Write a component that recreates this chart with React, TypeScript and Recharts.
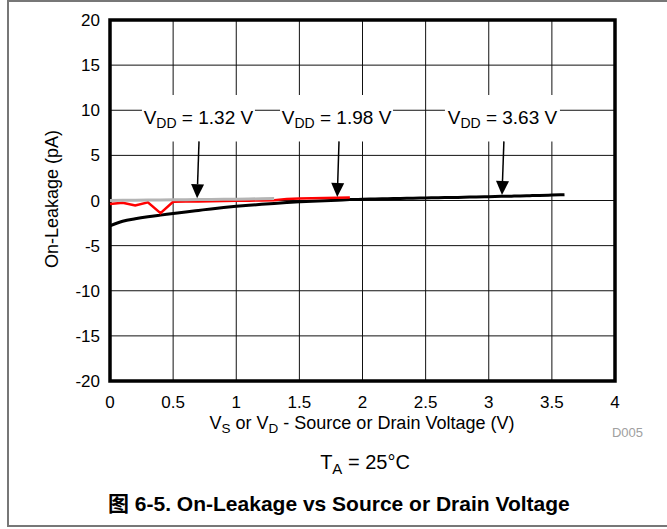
import { LineChart, Line, XAxis, YAxis, CartesianGrid, ReferenceArea, ReferenceLine } from 'recharts';

// source / drain voltage (V)
const voltage = [
  0, 0.1, 0.2, 0.3, 0.4, 0.5, 0.6, 0.7, 0.8, 0.9, 1.0, 1.1, 1.2, 1.3, 1.4, 1.5, 1.6, 1.7, 1.8,
  1.9, 2.0, 2.1, 2.2, 2.3, 2.4, 2.5, 2.6, 2.7, 2.8, 2.9, 3.0, 3.1, 3.2, 3.3, 3.4, 3.5, 3.6,
];

// on-leakage (pA) per supply
const leak132 = [0.0, 0.02, 0.03, 0.05, 0.06, 0.08, 0.09, 0.11, 0.12, 0.14, 0.15, 0.17, 0.19, 0.21];
const leak198 = [
  -0.4, -0.25, -0.55, -0.2, -1.4, -0.15, -0.12, -0.1, -0.08, -0.06, -0.04, -0.02, 0.0, 0.02,
  0.18, 0.22, 0.25, 0.28, 0.31, 0.34,
];
const leak363 = [
  -2.8, -2.3, -2.02, -1.8, -1.62, -1.45, -1.27, -1.1, -0.93, -0.78, -0.65, -0.53, -0.42, -0.32,
  -0.23, -0.15, -0.08, -0.02, 0.04, 0.1, 0.15, 0.17, 0.2, 0.23, 0.25, 0.28, 0.31, 0.33, 0.36,
  0.39, 0.42, 0.46, 0.49, 0.53, 0.56, 0.6, 0.65,
];

const xTicks = [0, 0.5, 1, 1.5, 2, 2.5, 3, 3.5, 4];
const yTicks = [-20, -15, -10, -5, 0, 5, 10, 15, 20];

// annotation boxes: [label, x1, x2] and arrows: [fromX, toX, toY]
const annLabels = ['1.32 V', '1.98 V', '3.63 V'];
const annBoxes = [
  [0.253, 1.148],
  [1.347, 2.242],
  [2.653, 3.564],
];
const annArrows = [
  [0.705, 0.69, 0.25],
  [1.814, 1.8, 0.38],
  [3.12, 3.105, 0.62],
];

const data = voltage.map((v, i) => ({
  v,
  a: leak132[i],
  b: leak198[i],
  c: leak363[i],
}));

const FONT = "'Liberation Sans', Arial, 'Noto Sans CJK SC', sans-serif";

const Arrow = (props: any) => {
  const { x1, y1, x2, y2 } = props;
  const ang = Math.atan2(y2 - y1, x2 - x1);
  const L = 14;
  const W = 6.5;
  const bx = x2 - L * Math.cos(ang);
  const by = y2 - L * Math.sin(ang);
  const px = -Math.sin(ang) * W;
  const py = Math.cos(ang) * W;
  return (
    <g>
      <line x1={x1} y1={y1} x2={bx} y2={by} stroke="#000" strokeWidth={1.5} />
      <polygon points={`${x2},${y2} ${bx + px},${by + py} ${bx - px},${by - py}`} fill="#000" />
    </g>
  );
};

const annText = (vb: any, value: string) => {
  const cx = vb.x + vb.width / 2;
  const cy = vb.y + vb.height / 2 + 6;
  return (
    <text x={cx} y={cy} textAnchor="middle" fontSize={19} fontFamily={FONT} fill="#000">
      V
      <tspan fontSize={14} dy={4}>DD</tspan>
      <tspan dy={-4}>{` = ${value}`}</tspan>
    </text>
  );
};

const sub = { fontSize: '0.75em', position: 'relative' as const, top: '0.3em' };

export default function App() {
  return (
    <div style={{ position: 'absolute', left: 0, top: 0, width: 667, height: 529, overflow: 'hidden', background: '#fff', fontFamily: FONT }}>
      {/* frame */}
      <div style={{ position: 'absolute', left: 7, top: 0, width: 700, height: 527, border: '2px solid #777', boxSizing: 'border-box' }} />

      <div style={{ position: 'absolute', left: 0, top: 0 }}>
        <LineChart width={667} height={529} data={data} margin={{ top: 20, right: 52, bottom: 118, left: 0 }}>
          <CartesianGrid stroke="#111" strokeWidth={1} />
          <XAxis
            dataKey="v"
            type="number"
            domain={[0, 4]}
            ticks={xTicks}
            axisLine={false}
            tickLine={false}
            tickMargin={9}
            height={30}
            tick={{ fill: '#000', fontSize: 17, fontFamily: FONT }}
            interval={0}
          />
          <YAxis
            type="number"
            domain={[-20, 20]}
            ticks={yTicks}
            axisLine={false}
            tickLine={false}
            tickMargin={4}
            width={110}
            tick={{ fill: '#000', fontSize: 17, fontFamily: FONT }}
            interval={0}
          />
          {annBoxes.map((b, i) => (
            <ReferenceArea
              key={annLabels[i]}
              x1={b[0]}
              x2={b[1]}
              y1={6.55}
              y2={11.7}
              fill="#fff"
              fillOpacity={1}
              stroke="none"
              label={(p: any) => annText(p.viewBox, annLabels[i])}
            />
          ))}
          <ReferenceArea x1={0} x2={4} y1={-20} y2={20} fill="none" stroke="#000" strokeWidth={3.5} />
          <Line type="monotone" dataKey="c" stroke="#000" strokeWidth={3} dot={false} isAnimationActive={false} />
          <Line type="linear" dataKey="b" stroke="#ff0000" strokeWidth={2.5} dot={false} isAnimationActive={false} />
          <Line type="linear" dataKey="a" stroke="#b4b4b4" strokeWidth={3} dot={false} isAnimationActive={false} />
          {annArrows.map((a, i) => (
            <ReferenceLine
              key={'arr' + i}
              segment={[{ x: a[0], y: 6.55 }, { x: a[1], y: a[2] }]}
              shape={Arrow}
            />
          ))}
        </LineChart>
      </div>

      {/* axis titles */}
      <div style={{ position: 'absolute', left: 52, top: 199, transform: 'translate(-50%, -50%) rotate(-90deg)', fontSize: 18, whiteSpace: 'nowrap', lineHeight: 1 }}>
        On-Leakage (pA)
      </div>
      <div style={{ position: 'absolute', left: 362, top: 423, transform: 'translate(-50%, -50%)', fontSize: 18, whiteSpace: 'nowrap', lineHeight: 1 }}>
        V<span style={sub}>S</span> or V<span style={sub}>D</span> - Source or Drain Voltage (V)
      </div>
      <div style={{ position: 'absolute', right: 24, top: 432, transform: 'translateY(-50%)', fontSize: 13, color: '#a0a0a0', lineHeight: 1 }}>
        D005
      </div>
      <div style={{ position: 'absolute', left: 365, top: 462, transform: 'translate(-50%, -50%)', fontSize: 20, whiteSpace: 'nowrap', lineHeight: 1 }}>
        T<span style={sub}>A</span> = 25°C
      </div>
      <div style={{ position: 'absolute', left: 108, top: 503, transform: 'translateY(-50%)', fontSize: 21, fontWeight: 'bold', whiteSpace: 'nowrap', lineHeight: 1 }}>
        图 6-5. On-Leakage vs Source or Drain Voltage
      </div>
    </div>
  );
}
